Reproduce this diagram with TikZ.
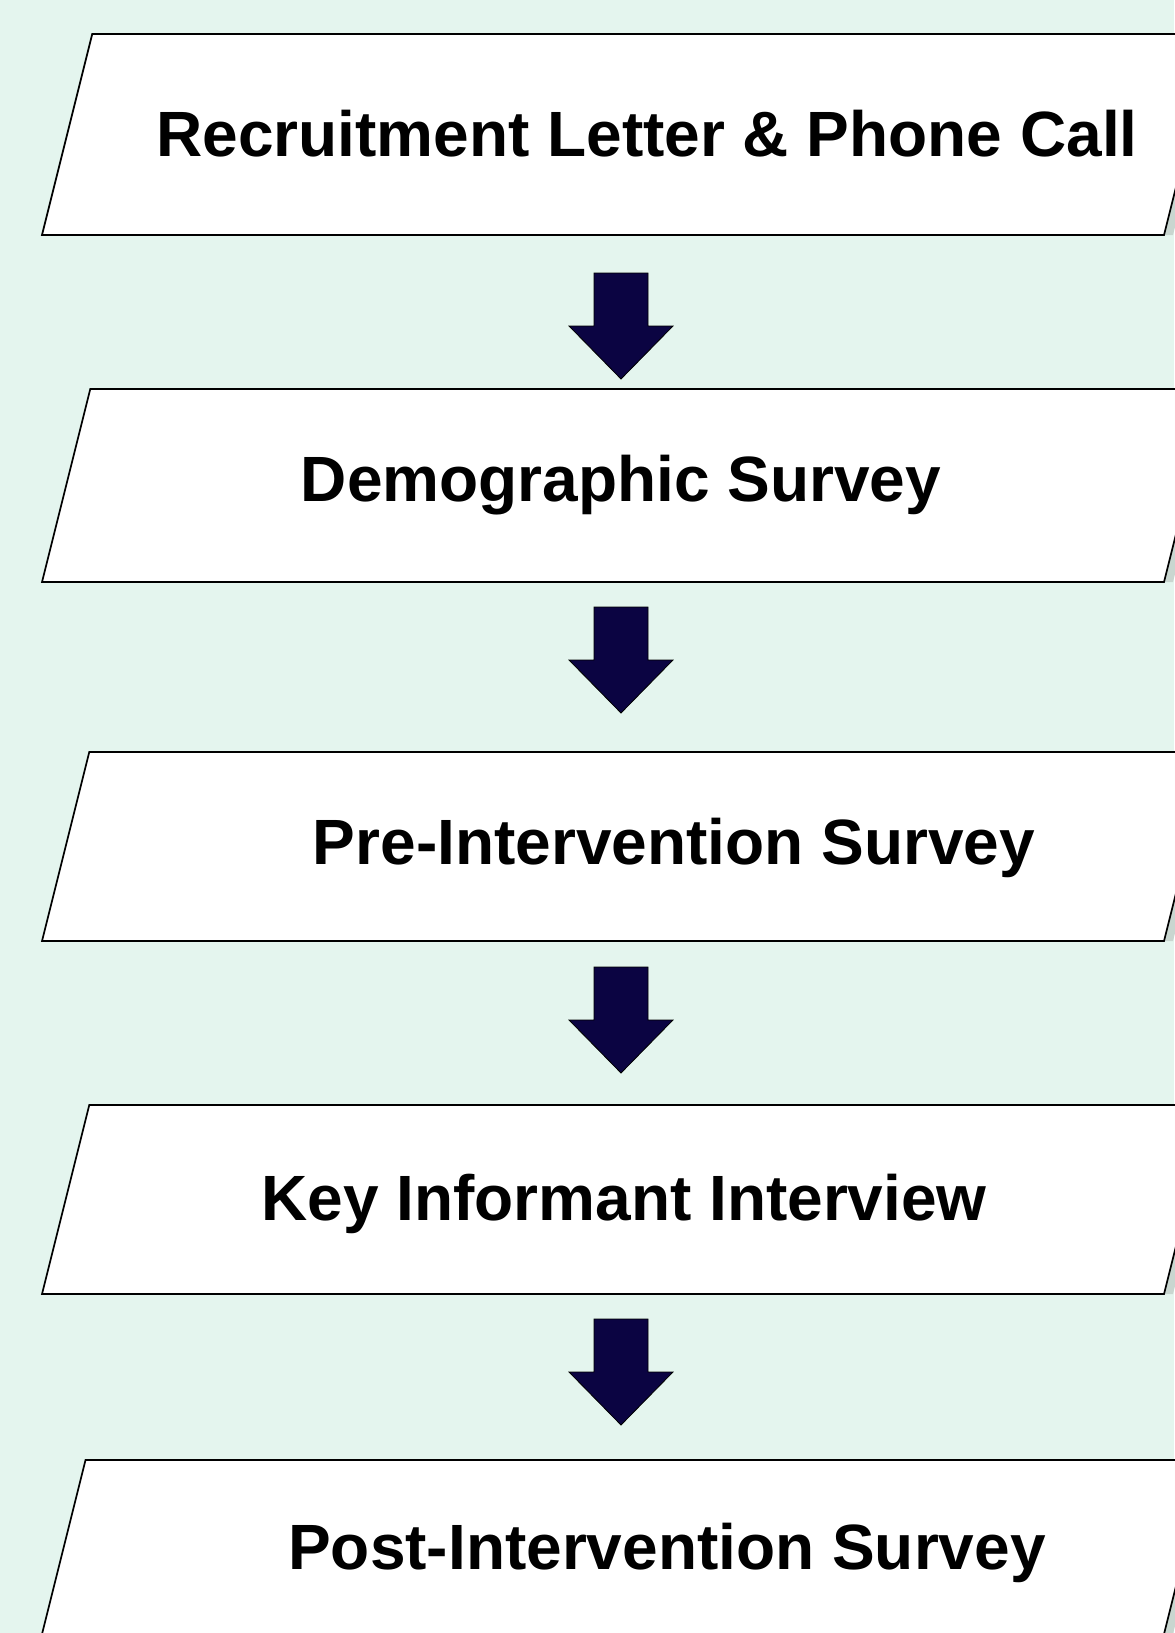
\documentclass[tikz,border=0pt]{standalone}
\usepackage{fontspec}
\setmainfont{Liberation Sans}
\definecolor{bgmint}{HTML}{E4F5EE}
\definecolor{shadowgray}{HTML}{C9D6D0}
\definecolor{arrownavy}{HTML}{0B0442}
\begin{document}
\begin{tikzpicture}[x=1bp,y=-1bp,
  stepbox/.style={draw=black,line width=1.7bp,fill=white,line join=miter},
  boxshadow/.style={fill=shadowgray,draw=none},
  downarrow/.style={draw=black,line width=0.8bp,fill=arrownavy},
  steplabel/.style={font=\fontsize{64bp}{70bp}\selectfont\bfseries,text=black,inner sep=0pt}]
\fill[bgmint] (0,0) rectangle (1174,1633);
\useasboundingbox (0,0) rectangle (1174,1633);
% boxes: top y, bottom y
\foreach \t/\b/\n in {34/235/1,389/582/2,752/941/3,1105/1294/4,1460/1634/5}{
  \pgfmathsetmacro{\tl}{42+0.25*(\b-\t)}
  \pgfmathsetmacro{\tr}{1164+0.25*(\b-\t)}
  \pgfmathsetmacro{\trs}{\tr+9}
  \coordinate (bl\n) at (42,\b);
  \coordinate (tl\n) at (\tl,\t);
  \coordinate (br\n) at (1164,\b);
  \coordinate (tr\n) at (\tr,\t);
  \fill[boxshadow] (tr\n) -- (\trs,\t) -- (1173,\b) -- (br\n) -- cycle;
  \filldraw[stepbox] (br\n) -- (bl\n) -- (tl\n) -- (tr\n) -- cycle;
}
% arrows: top y
\foreach \a/\n in {273/1,607/2,967/3,1319/4}{
  \pgfmathsetmacro{\am}{\a+53}
  \pgfmathsetmacro{\at}{\a+106}
  \draw[downarrow] (594,\a) -- (648,\a) -- (648,\am) -- (673,\am) -- (621,\at)
    -- (569,\am) -- (594,\am) -- cycle;
}
\node[steplabel] (t1) at (647,134) {Recruitment Letter \& Phone Call};
\node[steplabel] (t2) at (621,485) {Demographic Survey};
\node[steplabel] (t3) at (674,848) {Pre-Intervention Survey};
\node[steplabel] (t4) at (624,1204) {Key Informant Interview};
\node[steplabel] (t5) at (667,1553) {Post-Intervention Survey};
\end{tikzpicture}
\end{document}
